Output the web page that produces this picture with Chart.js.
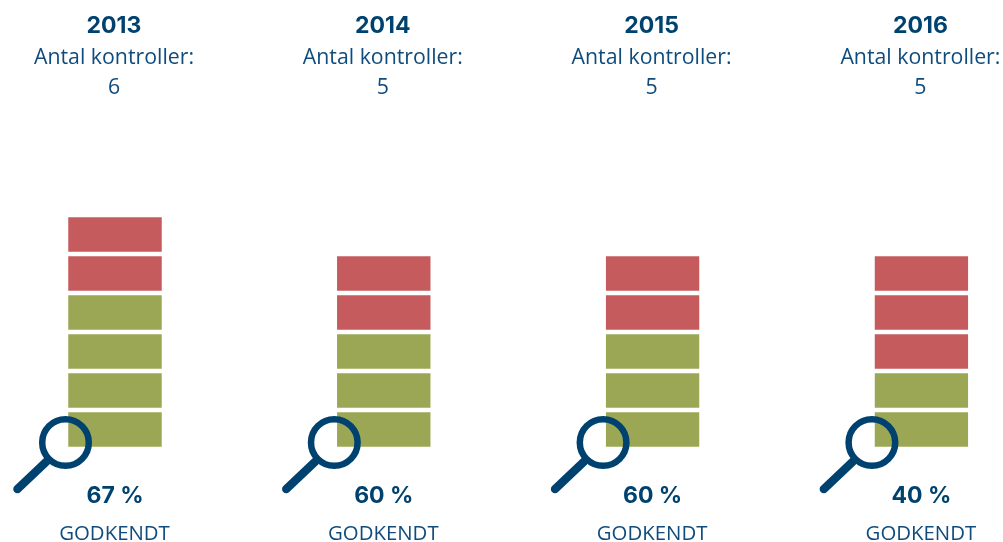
<!DOCTYPE html>
<html><head><meta charset="utf-8">
<style>html,body{margin:0;padding:0;background:#fff}#w{width:1003px;height:542px;position:relative}canvas{display:block}</style>
<script src="https://cdn.jsdelivr.net/npm/chart.js@4/dist/chart.umd.min.js"></script>
</head><body><div id="w"><canvas id="c" width="1003" height="542"></canvas></div>
<script>
const years = ['2013','2014','2015','2016'];
const controls = [6,5,5,5];
const approved = [4,3,3,2];
const percents = ['67 %','60 %','60 %','40 %'];
const controlsLabel = 'Antal kontroller:';
const approvedLabel = 'GODKENDT';
const GREEN='#9ca755', RED='#c55b5c', NAVY='#00426f', TEXT='#0f4c7d';

const datasets=[];
for(let s=0;s<Math.max(...controls);s++){
  datasets.push({
    label:'Kontrol '+(s+1),
    data:controls.map(n=>s<n?1:null),
    backgroundColor:controls.map((n,i)=>s<approved[i]?GREEN:RED),
    borderColor:'#fff',
    borderWidth:{top:3,bottom:2,left:0,right:0},
    borderSkipped:false,
    barThickness:93.5,
    clip:false,
    stack:'a'
  });
}

const overlay={
  id:'overlay',
  afterDatasetsDraw(chart){
    const {ctx,scales:{x}}=chart;
    ctx.save();
    years.forEach((y,i)=>{
      const c=x.getPixelForValue(i);
      ctx.textAlign='center';ctx.textBaseline='alphabetic';ctx.fillStyle=NAVY;
      ctx.font='700 23px Inter';
      ctx.fillText(y,c-1,33);
      ctx.fillText(percents[i],c,503);
      ctx.fillStyle=TEXT;
      ctx.font='400 21.3px "Open Sans"';
      ctx.fillText(controlsLabel,c-1,64);
      ctx.fillText(String(controls[i]),c-1,94);
      ctx.font='400 20.4px "Open Sans"';
      ctx.fillText(approvedLabel,c-0.5,540);
      // magnifying glass
      const mx=c-49.5,my=442.5;
      ctx.strokeStyle=NAVY;ctx.lineCap='round';
      ctx.lineWidth=6.5;
      ctx.beginPath();ctx.arc(mx,my,23.3,0,Math.PI*2);ctx.stroke();
      ctx.lineWidth=8.5;
      ctx.beginPath();ctx.moveTo(mx-19,my+19);ctx.lineTo(mx-48,my+46.5);ctx.stroke();
    });
    ctx.restore();
  }
};

new Chart(document.getElementById('c'),{
  type:'bar',
  data:{labels:years,datasets},
  options:{
    responsive:false,animation:false,devicePixelRatio:1,
    layout:{padding:{left:115,right:81.6,top:214.5,bottom:93.5}},
    plugins:{legend:{display:false},title:{display:false},tooltip:{enabled:false}},
    scales:{
      x:{stacked:true,offset:false,display:false},
      y:{stacked:true,display:false,min:0,max:6}
    }
  },
  plugins:[overlay]
});
</script></body></html>
